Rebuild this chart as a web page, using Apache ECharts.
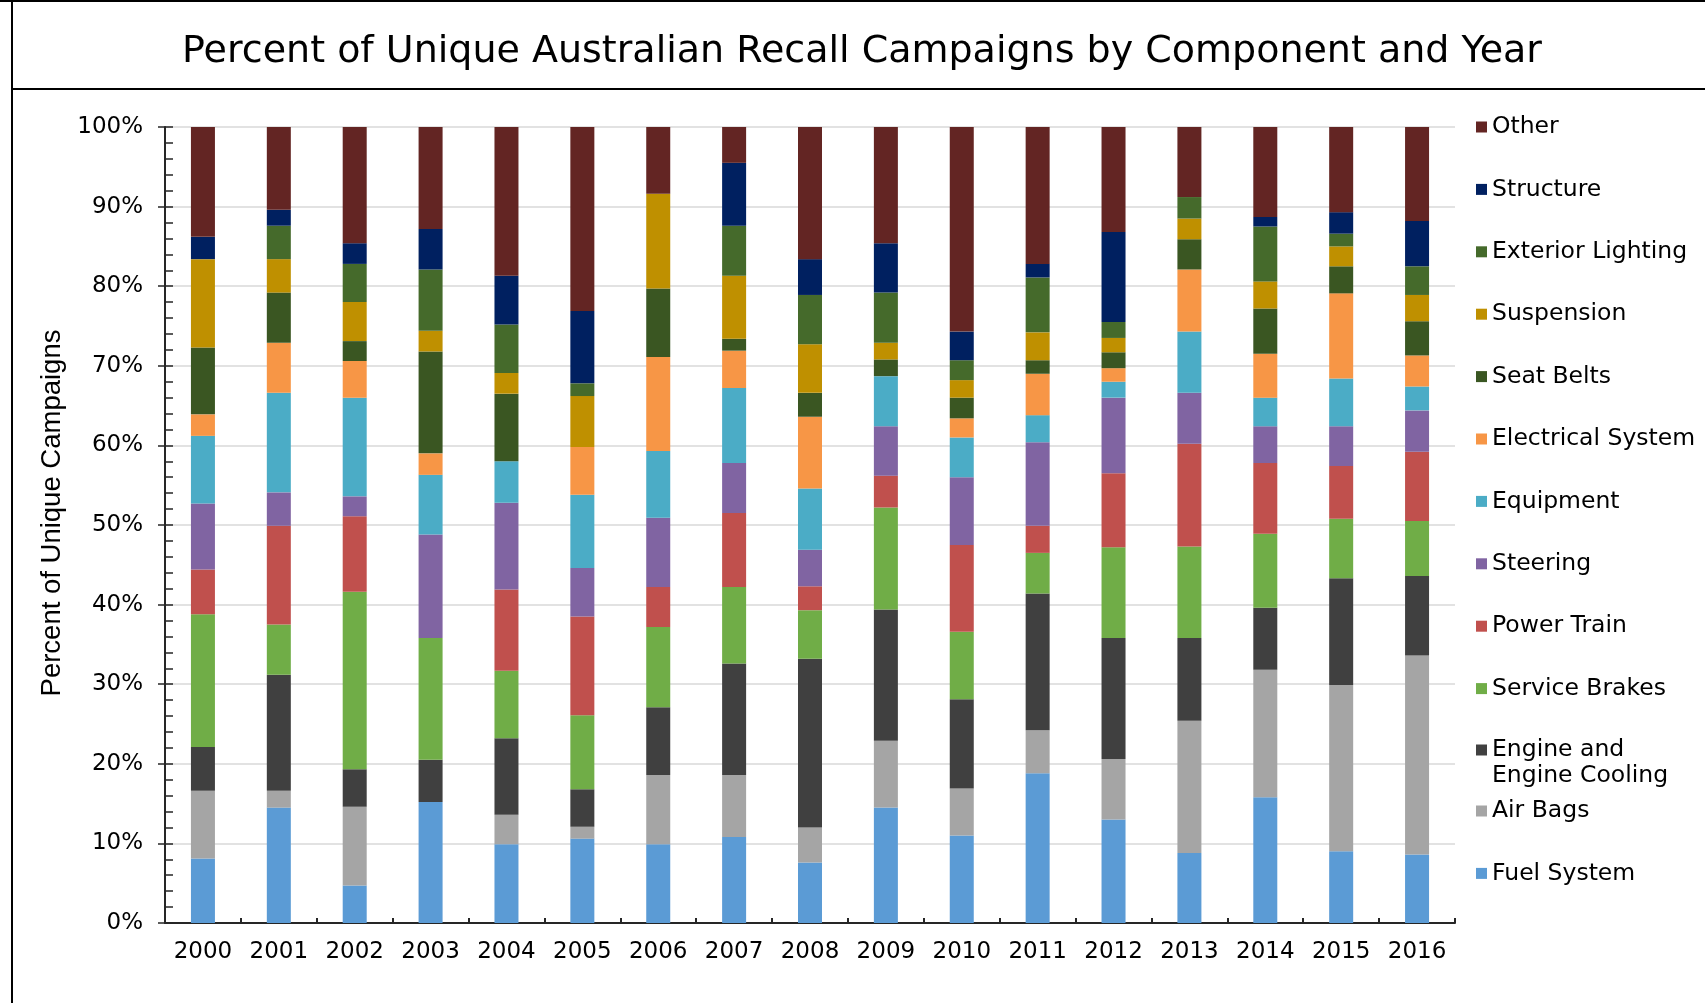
<!DOCTYPE html>
<html>
<head>
<meta charset="utf-8">
<title>Percent of Unique Australian Recall Campaigns</title>
<script src="https://cdn.jsdelivr.net/npm/echarts@6/dist/echarts.min.js"></script>
<style>
  html, body { margin: 0; padding: 0; background: #fff; }
  #chart { width: 1705px; height: 1003px; }
</style>
</head>
<body>
<div id="chart"></div>
<script>
var years = ['2000', '2001', '2002', '2003', '2004', '2005', '2006', '2007', '2008',
  '2009', '2010', '2011', '2012', '2013', '2014', '2015', '2016'];

// percent of campaigns per component, bottom of the stack first
var fuelSystem   = [8.1, 14.5, 4.7, 15.2, 9.9, 10.6, 9.9, 10.8, 7.6, 14.5, 11.0, 18.8, 13.0, 8.8, 15.8, 9.0, 8.6];
var airBags      = [8.5, 2.1, 9.9, 0, 3.7, 1.5, 8.7, 7.8, 4.4, 8.4, 5.9, 5.4, 7.6, 16.6, 16.0, 20.9, 25.0];
var engine       = [5.5, 14.6, 4.7, 5.3, 9.6, 4.7, 8.5, 14.0, 21.2, 16.5, 11.2, 17.2, 15.2, 10.4, 7.8, 13.4, 10.0];
var brakes       = [16.7, 6.3, 22.3, 15.3, 8.5, 9.3, 10.1, 9.6, 6.1, 12.8, 8.5, 5.1, 11.4, 11.5, 9.3, 7.5, 6.9];
var powerTrain   = [5.6, 12.4, 9.5, 0, 10.2, 12.4, 5.0, 9.3, 3.0, 4.0, 10.9, 3.4, 9.3, 12.9, 8.9, 6.6, 8.7];
var steering     = [8.3, 4.2, 2.5, 13.0, 10.9, 6.1, 8.7, 6.3, 4.6, 6.2, 8.5, 10.5, 9.5, 6.4, 4.6, 5.0, 5.2];
var equipment    = [8.5, 12.5, 12.4, 7.5, 5.2, 9.2, 8.4, 9.4, 7.7, 6.3, 5.0, 3.4, 2.0, 7.7, 3.6, 6.0, 3.0];
var electrical   = [2.7, 6.3, 4.6, 2.7, 0, 6.0, 11.8, 4.7, 9.0, 0, 2.4, 5.2, 1.7, 7.8, 5.5, 10.7, 3.9];
var seatBelts    = [8.4, 6.3, 2.5, 12.8, 8.5, 0, 8.6, 1.5, 3.0, 2.1, 2.6, 1.7, 2.0, 3.8, 5.7, 3.4, 4.3];
var suspension   = [11.1, 4.2, 4.9, 2.6, 2.6, 6.4, 11.9, 7.9, 6.1, 2.1, 2.2, 3.5, 1.8, 2.6, 3.4, 2.5, 3.3];
var extLighting  = [0, 4.2, 4.8, 7.7, 6.1, 1.6, 0, 6.3, 6.2, 6.3, 2.5, 6.9, 2.0, 2.7, 6.9, 1.6, 3.6];
var structure    = [2.8, 2.0, 2.6, 5.1, 6.1, 9.1, 0, 7.9, 4.5, 6.2, 3.6, 1.7, 11.3, 0, 1.2, 2.7, 5.7];
var other        = [13.8, 10.4, 14.6, 12.8, 18.7, 23.1, 8.4, 4.5, 16.6, 14.6, 25.7, 17.2, 13.2, 8.8, 11.3, 10.7, 11.8];

var yTicks = [0, 10, 20, 30, 40, 50, 60, 70, 80, 90, 100];

var components = [
  { name: 'Fuel System', data: fuelSystem, color: '#5B9BD5' },
  { name: 'Air Bags', data: airBags, color: '#A5A5A5' },
  { name: 'Engine and Engine Cooling', data: engine, color: '#404040' },
  { name: 'Service Brakes', data: brakes, color: '#70AD47' },
  { name: 'Power Train', data: powerTrain, color: '#C0504D' },
  { name: 'Steering', data: steering, color: '#8064A2' },
  { name: 'Equipment', data: equipment, color: '#4BACC6' },
  { name: 'Electrical System', data: electrical, color: '#F79646' },
  { name: 'Seat Belts', data: seatBelts, color: '#3A5622' },
  { name: 'Suspension', data: suspension, color: '#BF9000' },
  { name: 'Exterior Lighting', data: extLighting, color: '#456A2B' },
  { name: 'Structure', data: structure, color: '#002060' },
  { name: 'Other', data: other, color: '#632523' }
];

var legendFont = { fontFamily: 'DejaVu Sans', fontSize: 23.5, color: '#000', lineHeight: 26 };

var myChart = echarts.init(document.getElementById('chart'));

myChart.setOption({
  animation: false,
  backgroundColor: '#fff',
  title: {
    text: 'Percent of Unique Australian Recall Campaigns by Component and Year',
    left: 857,
    top: 47,
    textAlign: 'center',
    textVerticalAlign: 'middle',
    textStyle: { fontFamily: 'DejaVu Sans', fontSize: 38, fontWeight: 'normal', color: '#000' }
  },
  graphic: [
    { type: 'rect', shape: { x: 0, y: 0, width: 1705, height: 2 }, style: { fill: '#000' } },
    { type: 'rect', shape: { x: 11, y: 88, width: 1694, height: 2 }, style: { fill: '#000' } },
    { type: 'rect', shape: { x: 11, y: 0, width: 2, height: 1003 }, style: { fill: '#000' } }
  ],
  legend: [
    {
      orient: 'vertical',
      left: 1476,
      top: 114,
      padding: 0,
      itemGap: 36.4,
      itemWidth: 11,
      itemHeight: 11,
      icon: 'rect',
      textStyle: legendFont,
      data: ['Other', 'Structure', 'Exterior Lighting', 'Suspension', 'Seat Belts',
        'Electrical System', 'Equipment', 'Steering', 'Power Train', 'Service Brakes']
    },
    {
      orient: 'vertical',
      left: 1476,
      top: 711,
      padding: 0,
      itemWidth: 11,
      itemHeight: 11,
      icon: 'rect',
      textStyle: legendFont,
      formatter: function (name) {
        return '\nEngine and\nEngine Cooling';
      },
      data: ['Engine and Engine Cooling']
    },
    {
      orient: 'vertical',
      left: 1476,
      top: 798,
      padding: 0,
      itemGap: 36.4,
      itemWidth: 11,
      itemHeight: 11,
      icon: 'rect',
      textStyle: legendFont,
      data: ['Air Bags', 'Fuel System']
    }
  ],
  grid: {
    left: 165,
    right: 250,
    top: 127,
    bottom: 80
  },
  xAxis: {
    type: 'category',
    data: years,
    axisLine: { lineStyle: { color: '#262626', width: 2 } },
    axisTick: { show: true, inside: true, length: 5, lineStyle: { color: '#262626', width: 2 } },
    axisLabel: { interval: 0, fontFamily: 'DejaVu Sans', fontSize: 23, color: '#000', margin: 18 }
  },
  yAxis: [
    {
      type: 'value',
      min: yTicks[0],
      max: yTicks[yTicks.length - 1],
      interval: 10,
      name: 'Percent of Unique Campaigns',
      nameLocation: 'middle',
      nameGap: 97,
      nameTextStyle: { fontFamily: 'Liberation Sans', fontSize: 27.5, color: '#000', padding: [0, 0, 0, 24] },
      axisLine: { show: true, lineStyle: { color: '#262626', width: 2 } },
      axisTick: { show: true, inside: true, length: 8, lineStyle: { color: '#262626', width: 1.5 } },
      minorTick: { show: true, splitNumber: 5, length: 8, lineStyle: { color: '#262626', width: 1.5 } },
      axisLabel: {
        fontFamily: 'DejaVu Sans', fontSize: 23, color: '#000', margin: 22,
        formatter: '{value}%'
      },
      splitLine: { show: true, lineStyle: { color: '#D9D9D9', width: 1.5 } }
    },
    {
      // outward major ticks only
      type: 'value',
      position: 'left',
      min: yTicks[0],
      max: yTicks[yTicks.length - 1],
      interval: 10,
      axisLine: { show: false },
      axisTick: { show: true, length: 7, lineStyle: { color: '#262626', width: 1.5 } },
      axisLabel: { show: false },
      splitLine: { show: false }
    }
  ],
  series: components.map(function (c) {
    return {
      name: c.name,
      type: 'bar',
      stack: 'total',
      barWidth: 24,
      data: c.data,
      itemStyle: { color: c.color }
    };
  })
});
</script>
</body>
</html>
